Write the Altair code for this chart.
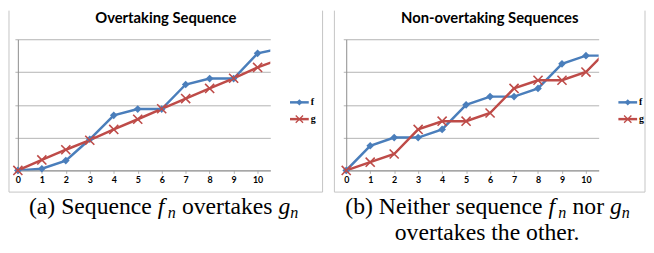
import altair as alt
import pandas as pd

# ---- data ----
steps = list(range(12))          # last step lies beyond the plot edge (clipped)
tick_values = list(range(11))
series_names = ["f", "g"]

a_f = [0, 0.5, 3, 9.5, 16.8, 18.7, 18.7, 26.2, 28, 28, 35.7, 37.2]
a_g = [0, 3.2, 6.3, 9.2, 12.5, 15.6, 18.8, 21.9, 25, 28.1, 31.4, 34.1]
b_f = [0, 7.5, 10, 10, 12.5, 20, 22.5, 22.5, 25, 32.5, 35, 35]
b_g = [0, 2.5, 5, 12.5, 15, 15, 17.5, 25, 27.5, 27.5, 30, 37.5]

title_a = "Overtaking Sequence"
title_b = "Non-overtaking Sequences"
caption_a = [[("(a) Sequence ", "r"), ("f", "i"), ("n", "s"), (" overtakes ", "r"), ("g", "i"), ("n", "s")]]
caption_b = [[("(b) Neither sequence ", "r"), ("f", "i"), ("n", "s"), (" nor ", "r"), ("g", "i"), ("n", "s")],
             [("overtakes the other.", "r")]]

BLUE = "#4a7ebb"
RED = "#be4b48"
GRID = "#b3b3b3"
BOX = "#c4c4c4"
PW, PH = 256, 133
XMAX = 10.53
XPATH = "M-1,-1L1,1M-1,1L1,-1"
SERIF = "Liberation Serif, Times New Roman, serif"

# Times metrics (units per 1000)
TW = {"(": 333, ")": 333, " ": 250, "a": 444, "b": 500, "c": 444, "e": 444, "h": 500,
      "i": 278, "k": 500, "l": 278, "n": 500, "o": 500, "q": 500, "r": 333, "s": 389,
      "t": 278, "u": 500, "v": 500, "N": 722, "S": 556, ".": 250, "f": 333, "g": 500}
TI = {"f": 420, "g": 500, "n": 500}
FS = 24


def seg_w(text, style):
    if style == "r":
        return sum(TW.get(c, 500) for c in text) / 1000 * FS
    if style == "i":
        return sum(TI.get(c, 500) for c in text) / 1000 * FS
    return sum(TI.get(c, 500) for c in text) / 1000 * FS * 0.7


def one():
    return alt.Data(values=[{"k": 0}])


def text_layer(txt, x, y, **kw):
    return alt.Chart(one()).mark_text(text=txt, **kw).encode(x=alt.value(x), y=alt.value(y))


def caption_layers(lines, center, y0, dy):
    out = []
    for li, segs in enumerate(lines):
        total = sum(seg_w(t, s) for t, s in segs)
        x = center - total / 2
        y = y0 + li * dy
        for t, s in segs:
            lead = len(t) - len(t.lstrip(" "))
            core = t.strip(" ")
            xs = x + seg_w(" " * lead, "r")
            if s == "r":
                out.append(text_layer(core, xs, y, font=SERIF, fontSize=FS, align="left",
                                      baseline="alphabetic", color="black"))
            elif s == "i":
                out.append(text_layer(core, xs, y, font=SERIF, fontSize=FS, fontStyle="italic",
                                      align="left", baseline="alphabetic", color="black"))
            else:
                out.append(text_layer(core, xs, y + FS * 0.18, font=SERIF, fontSize=FS * 0.68,
                                      fontStyle="italic", align="left", baseline="alphabetic", color="black"))
            x += seg_w(t, s)
    return out


def panel(fv, gv, title, caption, box_left, box_right, cap_center):
    df = pd.DataFrame({
        "x": steps * 2,
        "value": fv + gv,
        "series": ["f"] * len(steps) + ["g"] * len(steps),
    })
    X = alt.X("x:Q", scale=alt.Scale(domain=[0, XMAX], nice=False, zero=False),
              axis=alt.Axis(values=tick_values, format="d", title=None, grid=False,
                            labelFont="Lato", labelFontWeight="bold", labelFontSize=9,
                            labelColor="black", labelPadding=2, tickSize=3, tickColor=GRID,
                            domainColor="#8c8c8c", labelFlush=False))
    Y = alt.Y("value:Q", scale=alt.Scale(domain=[0, 40], nice=False),
              axis=alt.Axis(values=[0, 10, 20, 30, 40], labels=False, title=None, grid=True,
                            gridColor=GRID, gridWidth=1, tickSize=3, tickColor=GRID,
                            domainColor="#8c8c8c"))
    C = alt.Color("series:N", scale=alt.Scale(domain=series_names, range=[BLUE, RED]), legend=None)

    base = alt.Chart(df)
    lines = base.mark_line(clip=True, strokeWidth=2.5).encode(x=X, y=Y, color=C)
    pf = base.transform_filter("datum.series == 'f' && datum.x <= 10").mark_point(
        shape="diamond", filled=True, size=60, opacity=1).encode(x=X, y=Y, color=C)
    pg = base.transform_filter("datum.series == 'g' && datum.x <= 10").mark_point(
        shape=XPATH, filled=False, size=85, strokeWidth=1.6, opacity=1).encode(x=X, y=Y, color=C)

    layers = [lines, pf, pg]
    # frame
    for xv in (box_left, box_right):
        layers.append(alt.Chart(one()).mark_rule(color=BOX, strokeWidth=1).encode(
            x=alt.value(xv), y=alt.value(-29), y2=alt.value(155)))
    layers.append(alt.Chart(one()).mark_rule(color=BOX, strokeWidth=1).encode(
        x=alt.value(box_left), x2=alt.value(box_right), y=alt.value(155)))
    # title
    layers.append(text_layer(title, (box_left + box_right) / 2, -21, font="Lato", fontWeight="bold",
                             fontSize=15, align="center", baseline="middle", color="black"))
    # legend
    for i, (s, col) in enumerate(zip(series_names, [BLUE, RED])):
        yy = 64 + 17 * i
        layers.append(alt.Chart(one()).mark_rule(color=col, strokeWidth=2.5).encode(
            x=alt.value(276), x2=alt.value(295), y=alt.value(yy)))
        if s == "f":
            layers.append(alt.Chart(one()).mark_point(shape="diamond", filled=True, size=40, color=col,
                                                      opacity=1).encode(x=alt.value(285.5), y=alt.value(yy)))
        else:
            layers.append(alt.Chart(one()).mark_point(shape=XPATH, filled=False, size=55, strokeWidth=1.3,
                                                      color=col, opacity=1).encode(x=alt.value(285.5), y=alt.value(yy)))
        layers.append(text_layer(s, 297, yy, font=SERIF, fontWeight="bold", fontSize=10,
                                 align="left", baseline="middle", color="black"))
    # caption
    layers += caption_layers(caption, cap_center, 177, 27)
    return alt.layer(*layers).properties(width=PW, height=PH)


pa = panel(a_f, a_g, title_a, caption_a, -9, 309, 148)
pb = panel(b_f, b_g, title_b, caption_b, -12, 303, 143.5)

chart = alt.hconcat(pa, pb, spacing=77, bounds="flush").properties(padding=0).configure_view(stroke=None)
chart.save("out.html", embed_options={"renderer": "svg", "actions": False})
